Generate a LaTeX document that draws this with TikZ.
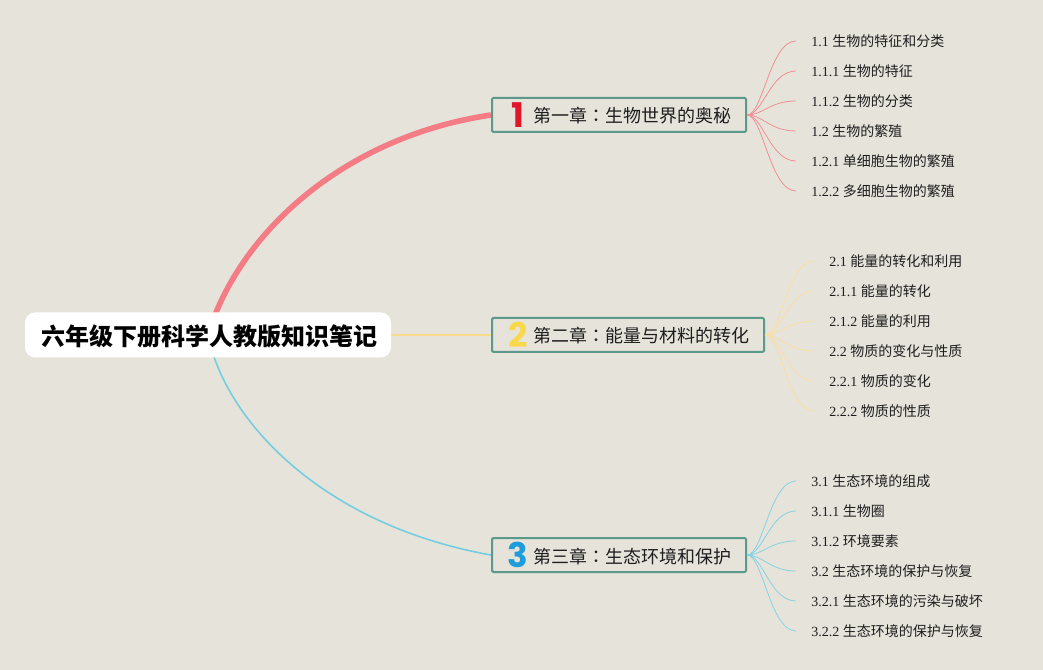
\documentclass[tikz,border=0pt]{standalone}
\usepackage{fontspec}
\setmainfont{Liberation Serif}
\newfontfamily\cjk{Noto Sans CJK SC}
\newfontfamily\cjktc{Noto Sans CJK TC}
\newfontfamily\numfont{Poppins}
\usetikzlibrary{backgrounds}
\definecolor{paperbg}{HTML}{E6E3DB}
\definecolor{boxline}{HTML}{5B9A8B}
\definecolor{redline}{HTML}{F47C85}
\definecolor{yellowline}{HTML}{F9D98C}
\definecolor{blueline}{HTML}{74CEE0}
\definecolor{redtwig}{HTML}{F28E96}
\definecolor{yellowtwig}{HTML}{FADFA2}
\definecolor{bluetwig}{HTML}{85D3E3}
\definecolor{rednum}{HTML}{E0162B}
\definecolor{yellownum}{HTML}{F9D84A}
\definecolor{bluenum}{HTML}{1E9CDB}
\definecolor{inktext}{HTML}{1E1E1E}
\tikzset{
  rootbox/.style={fill=white,rounded corners=7.5pt,inner sep=0pt,minimum width=274.5pt,minimum height=33.75pt,text height=15.6pt,text depth=0pt,font=\cjk\bfseries\fontsize{18}{22}\selectfont,execute at begin node=\hspace*{2pt}},
  chapterbox/.style={draw=boxline,line width=1.5pt,rounded corners=1pt,anchor=west,inner sep=0pt,minimum height=25.5pt,text height=12pt,text depth=0pt,text=inktext,font=\cjk\fontsize{13.5}{16}\selectfont,execute at begin node=\hspace*{30.75pt},execute at end node=\hspace*{11.25pt}},
  numtag/.style={inner sep=0pt,font=\numfont\bfseries\fontsize{25.5}{28}\selectfont},
  topic/.style={anchor=west,inner ysep=0pt,inner xsep=11.25pt,text=inktext,font=\fontsize{10.5}{13}\selectfont},
  twig/.style={line width=0.6pt},
}
\newcommand{\zh}[1]{{\cjk #1}}
\newcommand{\colonzh}{{\cjktc ：}}

\begin{document}
\begin{tikzpicture}[x=0.75pt,y=0.75pt,yscale=-1,xscale=1]
\useasboundingbox (0,0) rectangle (1043,670);

% Paper
\begin{pgfonlayer}{background}
\fill [paperbg] (0,0) rectangle (1043,670);
\end{pgfonlayer}

% Root Node
\node [rootbox] (root) at (208,335) {六年级下册科学人教版知识笔记};

% Chapter Nodes
\node [chapterbox] (ch1) at (491,115) {第一章\colonzh 生物世界的奥秘};
\node [chapterbox] (ch2) at (491,335) {第二章\colonzh 能量与材料的转化};
\node [chapterbox] (ch3) at (491,555) {第三章\colonzh 生态环境和保护};
\node [numtag,text=rednum] (num1) at (518,115) {1};
\node [numtag,text=yellownum] (num2) at (518,335) {2};
\node [numtag,text=bluenum] (num3) at (518,555) {3};

% Text Node
\node [topic] (t11) at (796,41) {1.1 \zh{生物的特征和分类}};
\node [topic] (t12) at (796,71) {1.1.1 \zh{生物的特征}};
\node [topic] (t13) at (796,101) {1.1.2 \zh{生物的分类}};
\node [topic] (t14) at (796,131) {1.2 \zh{生物的繁殖}};
\node [topic] (t15) at (796,161) {1.2.1 \zh{单细胞生物的繁殖}};
\node [topic] (t16) at (796,191) {1.2.2 \zh{多细胞生物的繁殖}};
% Text Node
\node [topic] (t21) at (814,261) {2.1 \zh{能量的转化和利用}};
\node [topic] (t22) at (814,291) {2.1.1 \zh{能量的转化}};
\node [topic] (t23) at (814,321) {2.1.2 \zh{能量的利用}};
\node [topic] (t24) at (814,351) {2.2 \zh{物质的变化与性质}};
\node [topic] (t25) at (814,381) {2.2.1 \zh{物质的变化}};
\node [topic] (t26) at (814,411) {2.2.2 \zh{物质的性质}};
% Text Node
\node [topic] (t31) at (796,481) {3.1 \zh{生态环境的组成}};
\node [topic] (t32) at (796,511) {3.1.1 \zh{生物圈}};
\node [topic] (t33) at (796,541) {3.1.2 \zh{环境要素}};
\node [topic] (t34) at (796,571) {3.2 \zh{生态环境的保护与恢复}};
\node [topic] (t35) at (796,601) {3.2.1 \zh{生态环境的污染与破坏}};
\node [topic] (t36) at (796,631) {3.2.2 \zh{生态环境的保护与恢复}};

%Curve Lines
\begin{pgfonlayer}{background}
\draw [redline,line width=4.2pt] (root.center) .. controls (238,235) and (342,137) .. (ch1.west);
\draw [blueline,line width=1.2pt] (root.center) .. controls (225,420) and (322,525) .. (ch3.west);
\draw [yellowline,line width=2pt] (root.east) -- (ch2.west);
\end{pgfonlayer}

%Curve Lines
\draw [twig,redtwig] (ch1.east) .. controls +(16,0) and +(-26,0) .. (t11.west);
\draw [twig,redtwig] (ch1.east) .. controls +(16,0) and +(-26,0) .. (t12.west);
\draw [twig,redtwig] (ch1.east) .. controls +(16,0) and +(-26,0) .. (t13.west);
\draw [twig,redtwig] (ch1.east) .. controls +(16,0) and +(-26,0) .. (t14.west);
\draw [twig,redtwig] (ch1.east) .. controls +(16,0) and +(-26,0) .. (t15.west);
\draw [twig,redtwig] (ch1.east) .. controls +(16,0) and +(-26,0) .. (t16.west);
%Curve Lines
\draw [twig,yellowtwig] (ch2.east) .. controls +(16,0) and +(-26,0) .. (t21.west);
\draw [twig,yellowtwig] (ch2.east) .. controls +(16,0) and +(-26,0) .. (t22.west);
\draw [twig,yellowtwig] (ch2.east) .. controls +(16,0) and +(-26,0) .. (t23.west);
\draw [twig,yellowtwig] (ch2.east) .. controls +(16,0) and +(-26,0) .. (t24.west);
\draw [twig,yellowtwig] (ch2.east) .. controls +(16,0) and +(-26,0) .. (t25.west);
\draw [twig,yellowtwig] (ch2.east) .. controls +(16,0) and +(-26,0) .. (t26.west);
%Curve Lines
\draw [twig,bluetwig] (ch3.east) .. controls +(16,0) and +(-26,0) .. (t31.west);
\draw [twig,bluetwig] (ch3.east) .. controls +(16,0) and +(-26,0) .. (t32.west);
\draw [twig,bluetwig] (ch3.east) .. controls +(16,0) and +(-26,0) .. (t33.west);
\draw [twig,bluetwig] (ch3.east) .. controls +(16,0) and +(-26,0) .. (t34.west);
\draw [twig,bluetwig] (ch3.east) .. controls +(16,0) and +(-26,0) .. (t35.west);
\draw [twig,bluetwig] (ch3.east) .. controls +(16,0) and +(-26,0) .. (t36.west);

\end{tikzpicture}
\end{document}
